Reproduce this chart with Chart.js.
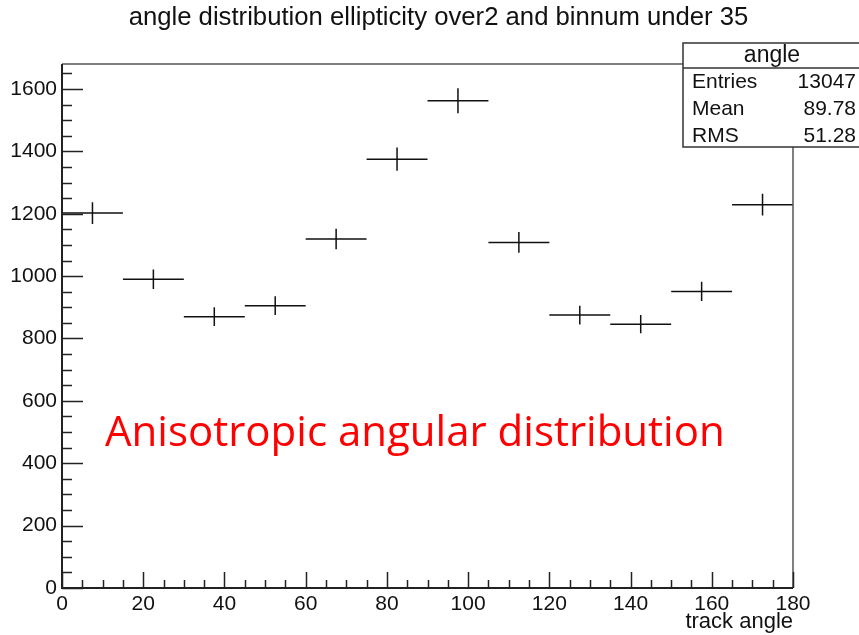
<!DOCTYPE html>
<html>
<head>
<meta charset="utf-8">
<script src="https://cdn.jsdelivr.net/npm/chart.js@4/dist/chart.umd.min.js"></script>
<style>
  html, body { margin: 0; padding: 0; background: #fff; }
  #wrap { width: 859px; height: 635px; }
</style>
</head>
<body>
<div id="wrap"><canvas id="hist"></canvas></div>
<script>
'use strict';

// histogram "angle": 12 bins of 15 degrees
const binEdges = [0, 15, 30, 45, 60, 75, 90, 105, 120, 135, 150, 165, 180];
const counts = [1202, 990, 870, 905, 1119, 1375, 1562, 1108, 875, 846, 951, 1229];
const errors = [35, 31, 30, 30, 33, 37, 40, 33, 30, 29, 31, 35];

const xMajorTicks = [0, 20, 40, 60, 80, 100, 120, 140, 160, 180];
const yMajorTicks = [0, 200, 400, 600, 800, 1000, 1200, 1400, 1600];

const statsLabels = ['Entries', 'Mean', 'RMS'];
const statsValues = ['13047', '89.78', '51.28'];

const FONT = '"Liberation Sans", Arial, Helvetica, sans-serif';
const TITLE = 'angle distribution ellipticity over2 and binnum under 35';

// horizontal bars (bin width) and vertical error bars, gaps split the segments
const hSegs = [];
const vSegs = [];
counts.forEach((c, i) => {
    const mid = (binEdges[i] + binEdges[i + 1]) / 2;
    hSegs.push({x: binEdges[i], y: c}, {x: binEdges[i + 1], y: c}, {x: binEdges[i + 1], y: null});
    vSegs.push({x: mid, y: c - errors[i]}, {x: mid, y: c + errors[i]}, {x: mid, y: null});
});

// frame, inward ticks, stats box and texts, ROOT style
const rootFrame = {
    id: 'rootFrame',
    afterDraw(chart) {
        const ctx = chart.ctx;
        const xs = chart.scales.x, ys = chart.scales.y;
        const a = chart.chartArea;
        ctx.save();

        // top + right frame
        ctx.strokeStyle = '#555';
        ctx.lineWidth = 1.5;
        ctx.beginPath();
        ctx.moveTo(a.left, a.top);
        ctx.lineTo(a.right, a.top);
        ctx.lineTo(a.right, a.bottom);
        ctx.stroke();

        // axes
        ctx.strokeStyle = '#222';
        ctx.lineWidth = 2;
        ctx.beginPath();
        ctx.moveTo(a.left, a.top);
        ctx.lineTo(a.left, a.bottom);
        ctx.lineTo(a.right, a.bottom);
        ctx.stroke();

        // ticks
        ctx.lineWidth = 1.5;
        ctx.beginPath();
        for (let v = 0; v <= 1650; v += 50) {
            const py = Math.round(ys.getPixelForValue(v)) + 0.5;
            const len = v % 200 === 0 ? 21 : 10;
            ctx.moveTo(a.left, py);
            ctx.lineTo(a.left + len, py);
        }
        for (let v = 0; v <= 180; v += 5) {
            const px = Math.round(xs.getPixelForValue(v)) + 0.5;
            const len = v % 20 === 0 ? 16 : 8;
            ctx.moveTo(px, a.bottom);
            ctx.lineTo(px, a.bottom - len);
        }
        ctx.stroke();

        // title, sized to its width in the original
        ctx.fillStyle = '#111';
        ctx.font = '20px ' + FONT;
        const tsize = 20 * 621 / ctx.measureText(TITLE).width;
        ctx.font = tsize.toFixed(1) + 'px ' + FONT;
        ctx.textAlign = 'center';
        ctx.textBaseline = 'middle';
        ctx.fillText(TITLE, 438.5, 18);

        // x axis title
        ctx.font = '22px ' + FONT;
        ctx.textAlign = 'right';
        ctx.fillText('track angle', a.right, 622);

        // stats box
        const bx = 683, by = 43, bw = 180, bh = 104;
        ctx.fillStyle = '#fff';
        ctx.fillRect(bx, by, bw, bh);
        ctx.strokeStyle = '#333';
        ctx.lineWidth = 1.5;
        ctx.strokeRect(bx, by, bw, bh);
        ctx.beginPath();
        ctx.moveTo(bx, 68);
        ctx.lineTo(bx + bw, 68);
        ctx.stroke();

        ctx.fillStyle = '#111';
        ctx.font = '23px ' + FONT;
        ctx.textAlign = 'center';
        ctx.fillText('angle', 772, 56);
        ctx.font = '21px ' + FONT;
        statsLabels.forEach((lab, i) => {
            const ty = 82 + i * 27;
            ctx.textAlign = 'left';
            ctx.fillText(lab, 692, ty);
            ctx.textAlign = 'right';
            ctx.fillText(statsValues[i], 856, ty);
        });

        // annotation
        ctx.fillStyle = '#ff0000';
        ctx.font = '42px "Open Sans", sans-serif';
        ctx.textAlign = 'left';
        ctx.textBaseline = 'alphabetic';
        ctx.fillText('Anisotropic angular distribution', 105, 446);

        ctx.restore();
    }
};

const histChart = new Chart(document.getElementById('hist'), {
    type: 'scatter',
    data: {
        datasets: [{
            label: 'bins',
            data: hSegs,
            showLine: true,
            spanGaps: false,
            borderColor: '#111',
            borderWidth: 1.5,
            pointRadius: 0
        }, {
            label: 'errors',
            data: vSegs,
            showLine: true,
            spanGaps: false,
            borderColor: '#111',
            borderWidth: 1.5,
            pointRadius: 0
        }]
    },
    options: {
        responsive: true,
        maintainAspectRatio: false,
        animation: false,
        layout: {
            padding: {left: 0, right: 66, top: 64, bottom: 0}
        },
        plugins: {
            legend: {display: false},
            tooltip: {enabled: false},
            title: {display: false}
        },
        scales: {
            x: {
                type: 'linear',
                min: 0,
                max: 180,
                grid: {display: false, drawTicks: false},
                border: {display: false},
                afterBuildTicks: (s) => { s.ticks = xMajorTicks.map(v => ({value: v})); },
                afterFit: (s) => { s.height = 47; },
                ticks: {
                    color: '#111',
                    padding: 4,
                    maxRotation: 0,
                    font: {family: FONT, size: 21}
                }
            },
            y: {
                type: 'linear',
                min: 0,
                max: 1680,
                grid: {display: false, drawTicks: false},
                border: {display: false},
                afterBuildTicks: (s) => { s.ticks = yMajorTicks.map(v => ({value: v})); },
                afterFit: (s) => { s.width = 62; },
                ticks: {
                    color: '#111',
                    padding: 5,
                    font: {family: FONT, size: 21},
                    callback: (v) => String(v)
                }
            }
        }
    },
    plugins: [rootFrame]
});
</script>
</body>
</html>
